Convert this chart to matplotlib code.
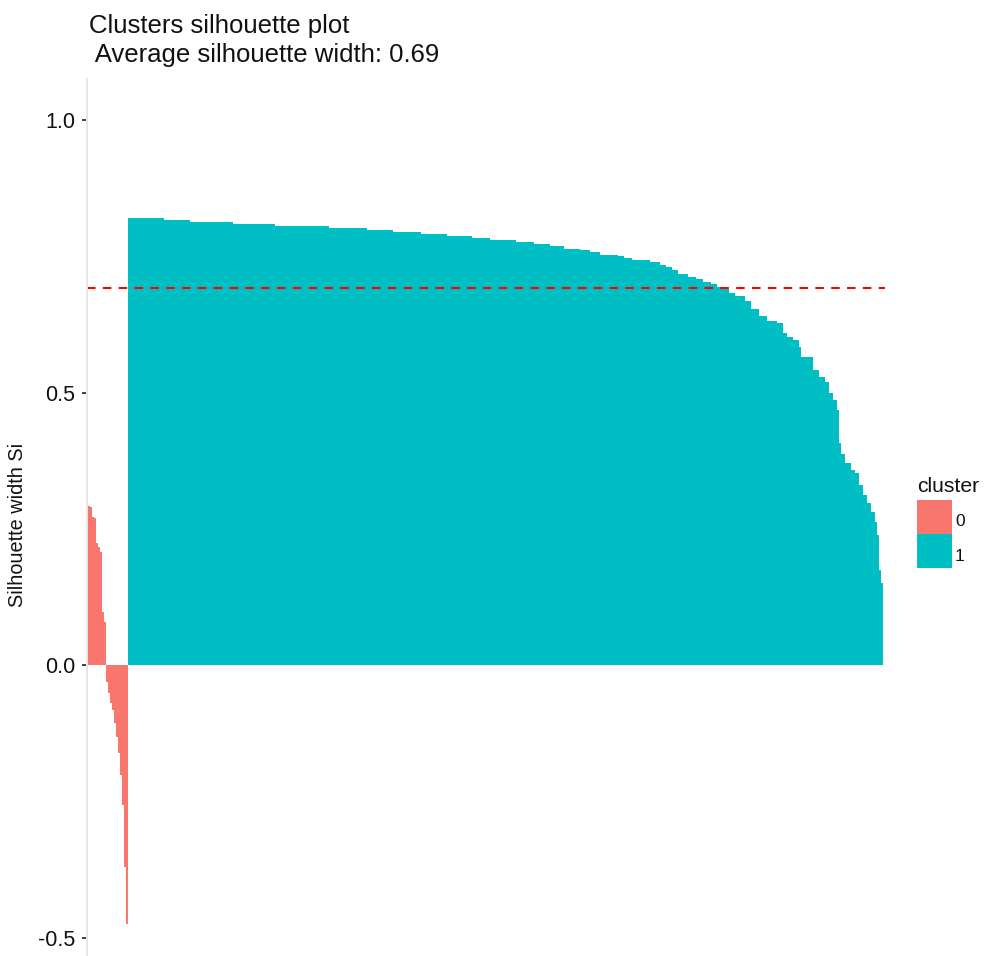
import numpy as np
import matplotlib
matplotlib.use("Agg")
import matplotlib.pyplot as plt
from matplotlib.patches import Rectangle

plt.rcParams["font.family"] = ["Liberation Sans", "DejaVu Sans"]

# Silhouette widths, each cluster sorted in decreasing order
cluster0_sil = [0.292, 0.290, 0.272, 0.270, 0.224, 0.217, 0.208, 0.098, 0.079,
                -0.031, -0.052, -0.070, -0.083, -0.106, -0.132, -0.161, -0.202,
                -0.257, -0.370, -0.476]

# Cluster 1 is long, so it is stored as plateau levels and how many observations share each level
cluster1_levels = [0.820, 0.816, 0.812, 0.809, 0.805, 0.801, 0.798, 0.794, 0.791, 0.787,
                   0.783, 0.779, 0.776, 0.772, 0.768, 0.764, 0.761, 0.757, 0.753, 0.750,
                   0.746, 0.743, 0.739, 0.734, 0.730, 0.725, 0.717, 0.712, 0.708, 0.703,
                   0.699, 0.694, 0.689, 0.683, 0.677, 0.668, 0.653, 0.640, 0.631, 0.627,
                   0.609, 0.601, 0.596, 0.584, 0.566, 0.541, 0.529, 0.520, 0.499, 0.486,
                   0.468, 0.407, 0.388, 0.370, 0.358, 0.352, 0.330, 0.312, 0.297, 0.281,
                   0.263, 0.239, 0.174, 0.150]
cluster1_runs = [18, 13, 21, 21, 27, 19, 13, 14, 13, 12,
                 9, 13, 9, 8, 7, 8, 5, 5, 9, 3,
                 4, 9, 5, 3, 3, 3, 5, 4, 3, 4,
                 3, 3, 3, 3, 5, 3, 4, 4, 5, 3,
                 2, 3, 3, 1, 6, 3, 3, 2, 2, 2,
                 1, 1, 2, 3, 2, 2, 2, 2, 2, 2,
                 1, 1, 1, 1]

cluster_names = ["0", "1"]
cluster_colors = ["#F8766D", "#00BFC4"]
y_ticks = [-0.5, 0.0, 0.5, 1.0]
y_tick_labels = ["-0.5", "0.0", "0.5", "1.0"]

cluster1_sil = np.repeat(cluster1_levels, cluster1_runs)
sil = np.concatenate([cluster0_sil, cluster1_sil])
labels = np.concatenate([np.zeros(len(cluster0_sil), int), np.ones(len(cluster1_sil), int)])
avg_width = sil.mean()
n = len(sil)
pos = np.arange(1, n + 1)

W, H = 985, 956
fig = plt.figure(figsize=(W / 100, H / 100), dpi=100)
fig.patch.set_facecolor("white")

# panel geometry in pixels
p_left, p_right, p_top, p_bottom = 86.7, 884.5, 79.4, 956.0
ax = fig.add_axes([p_left / W, 1 - p_bottom / H, (p_right - p_left) / W, (p_bottom - p_top) / H])

for k, col in enumerate(cluster_colors):
    m = labels == k
    ax.bar(pos[m], sil[m], width=1.0, color=col, linewidth=0, antialiased=False)

ax.axhline(avg_width, color="#FF0000", linewidth=1.5, linestyle=(0, (4.1, 3.5)))

ax.set_xlim(0.5 - 0.6, n + 0.5 + 0.6)
y_top = 1.0745
y_bot = y_top - (p_bottom - p_top) / 545.0
ax.set_ylim(y_bot, y_top)

for s in ["top", "right", "bottom"]:
    ax.spines[s].set_visible(False)
ax.spines["left"].set_color("#E6E6E6")
ax.spines["left"].set_linewidth(1.4)

ax.set_xticks([])
ax.set_yticks(y_ticks)
ax.set_yticklabels(y_tick_labels)
ax.tick_params(axis="y", length=3.5, width=1.3, color="#333333", pad=5,
               labelsize=15.5, labelcolor="#111111")

fig.text(18 / W, 1 - 525 / H, "Silhouette width Si", rotation=90,
         ha="center", va="center", fontsize=14.3, color="#111111")

# title
fig.text(89 / W, 1 - 33 / H, "Clusters silhouette plot", fontsize=18.5,
         ha="left", va="baseline", color="#111111")
fig.text(89 / W, 1 - 62 / H, " Average silhouette width: %.2f" % avg_width, fontsize=18.5,
         ha="left", va="baseline", color="#111111")

# legend
fig.text(917 / W, 1 - 492 / H, "cluster", fontsize=15.2, ha="left", va="baseline",
         color="#111111")
key_tops = [500.0, 534.3]
key_h = 33.5
for k, (name, col) in enumerate(zip(cluster_names, cluster_colors)):
    t = key_tops[k]
    fig.add_artist(Rectangle((917.3 / W, 1 - (t + key_h) / H), 35 / W, key_h / H,
                             transform=fig.transFigure, facecolor=col, edgecolor="none"))
    fig.text(955 / W, 1 - (t + 26.5) / H, name, fontsize=12.5, ha="left",
             va="baseline", color="#111111")

fig.savefig("out.png", dpi=100, facecolor="white")
